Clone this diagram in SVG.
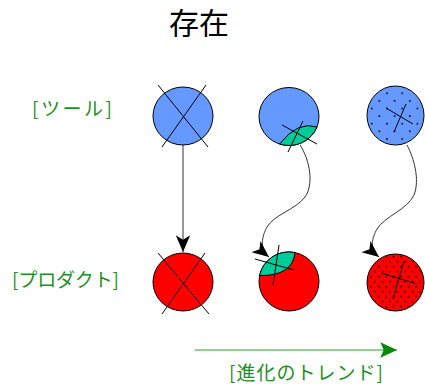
<svg xmlns="http://www.w3.org/2000/svg" width="425" height="388" viewBox="0 0 425 388">
<style>
.title{font-family:"Noto Sans CJK JP","Noto Sans",sans-serif;font-size:30px;fill:#000}
.lbl{font-family:"Noto Sans CJK JP","Noto Sans",sans-serif;font-size:19px;fill:#1f8f1f}
.blue{fill:#6699ff;stroke:#000;stroke-width:1}
.red{fill:#ff0000;stroke:#000;stroke-width:1}
.lens{fill:#00cc99;stroke:#000;stroke-width:1}
.x{stroke:#000;stroke-width:1;fill:none}
.conn{stroke:#333;stroke-width:1;fill:none}
</style>
<defs>
<marker id="ah" markerUnits="userSpaceOnUse" markerWidth="20" markerHeight="20" refX="0" refY="0" viewBox="-16 -8 18 16" orient="auto" overflow="visible">
<path d="M0,0 L-15,-6.5 L-11,0 L-15,6.5 Z" fill="#000"/>
</marker>
<marker id="ahg" markerUnits="userSpaceOnUse" markerWidth="20" markerHeight="20" refX="0" refY="0" viewBox="-16 -8 18 16" orient="auto" overflow="visible">
<path d="M0,0 L-15,-7 L-12,0 L-15,7 Z" fill="#0a880a"/>
</marker>
<pattern id="dots1" patternUnits="userSpaceOnUse" x="383.2" y="89.5" width="15.2" height="15.2">
<circle cx="3.8" cy="3.8" r="1" fill="#112"/><circle cx="11.4" cy="11.4" r="1" fill="#112"/>
</pattern>
<pattern id="dots2" patternUnits="userSpaceOnUse" x="391.8" y="254.2" width="7.5" height="10">
<circle cx="1.9" cy="2.5" r="0.9" fill="#200"/><circle cx="5.65" cy="7.5" r="0.9" fill="#200"/>
</pattern>
</defs>

<g id="title"><text class="title" x="199" y="34" text-anchor="middle">存在</text></g>
<g id="label-tool"><text class="lbl" x="32" y="116" textLength="80">[ツール]</text></g>
<g id="label-product"><text class="lbl" x="12" y="287" textLength="107">[プロダクト]</text></g>

<g id="tool-1">
<ellipse class="blue" cx="183" cy="116" rx="30" ry="29"/>
<line class="x" x1="158" y1="85" x2="208" y2="147"/>
<line class="x" x1="206" y1="85" x2="162" y2="147"/>
</g>
<g id="tool-2">
<ellipse class="blue" cx="289" cy="116.5" rx="30" ry="29"/>
<path class="lens" d="M279.5,144 Q298,120.5 317,127 A30,29 0 0 1 279.5,144 Z"/>
<line class="x" x1="282" y1="125" x2="317" y2="144"/>
<line class="x" x1="303" y1="121" x2="288" y2="152"/>
</g>
<g id="tool-3">
<ellipse class="blue" cx="395.5" cy="115.5" rx="28.5" ry="29.5"/>
<ellipse cx="395.5" cy="115.5" rx="28" ry="29" fill="url(#dots1)"/>
<line class="x" x1="386" y1="108" x2="413" y2="124"/>
<line class="x" x1="406" y1="104" x2="394" y2="132"/>
</g>

<g id="product-1">
<ellipse class="red" cx="183" cy="282" rx="30" ry="29"/>
<line class="x" x1="158" y1="253" x2="209" y2="314"/>
<line class="x" x1="205" y1="253" x2="162" y2="314"/>
</g>
<g id="product-2">
<ellipse class="red" cx="289" cy="281.5" rx="30" ry="29.5"/>
<path class="lens" d="M259.5,275.5 A30,29.5 0 0 1 295,252.5 Q292.8,276 259.5,275.5 Z"/>
<line class="x" x1="255" y1="259" x2="294" y2="270"/>
<line class="x" x1="279" y1="245" x2="273" y2="285"/>
</g>
<g id="product-3">
<ellipse class="red" cx="395.5" cy="282.5" rx="28.5" ry="28.5"/>
<ellipse cx="395.5" cy="282.5" rx="28" ry="28" fill="url(#dots2)"/>
<line class="x" x1="381" y1="273" x2="417" y2="284"/>
<line class="x" x1="404" y1="261" x2="393" y2="299"/>
</g>

<g id="connectors">
<line class="conn" x1="183" y1="145" x2="183" y2="252" marker-end="url(#ah)"/>
<path class="conn" d="M300,145 C310,160 314,185 305,197 C295,210 275,214 267,227 C262,236 259,249 269,257" marker-end="url(#ah)"/>
<path class="conn" d="M407,145 C414,158 420,180 414,195 C407,210 385,216 377,229 C372,238 369,249 379,257" marker-end="url(#ah)"/>
<line x1="195" y1="350" x2="397" y2="350" stroke="#2a9a2a" stroke-width="1" marker-end="url(#ahg)"/>
</g>
<g id="label-trend"><text class="lbl" x="229" y="380" textLength="154">[進化のトレンド]</text></g>
</svg>
